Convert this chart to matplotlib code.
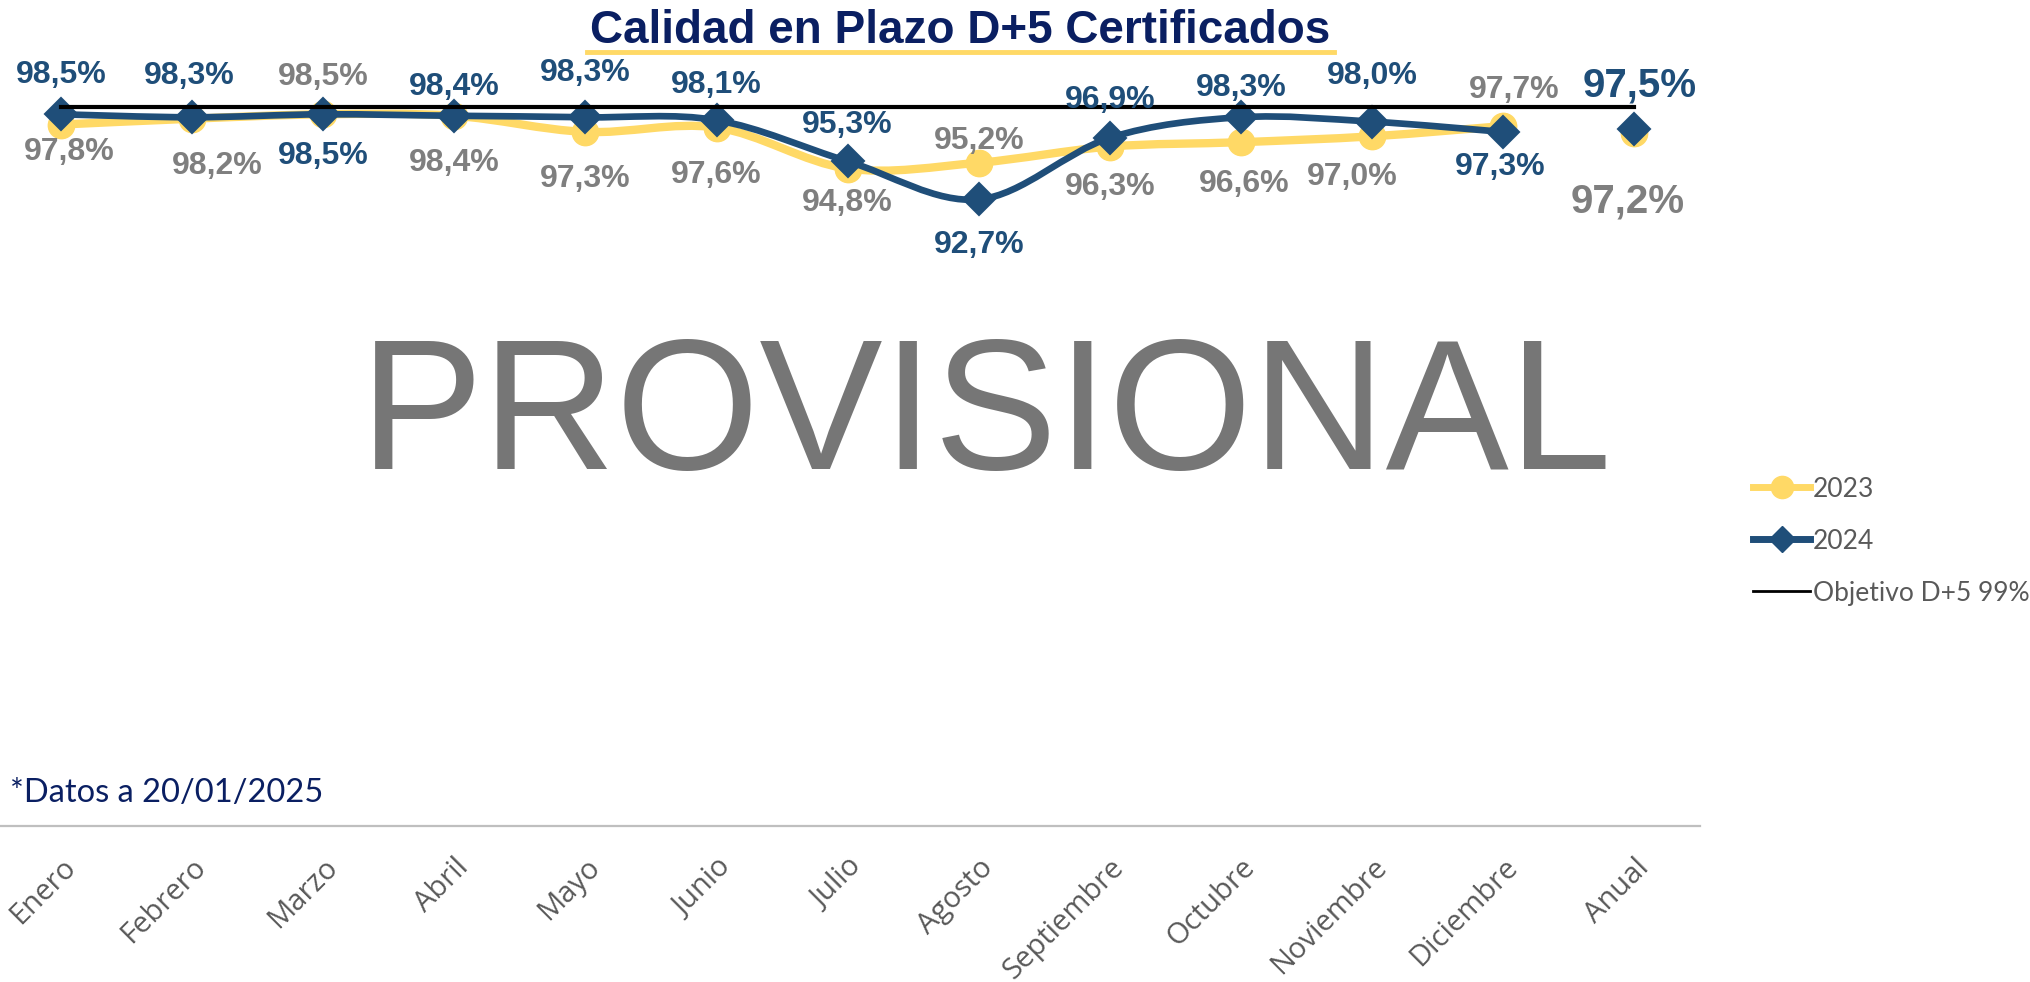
import numpy as np
import matplotlib
matplotlib.use("Agg")
import matplotlib.pyplot as plt
from matplotlib import font_manager
from matplotlib.path import Path
from matplotlib.patches import PathPatch
from matplotlib.lines import Line2D
import matplotlib.transforms as mtransforms

# datos
meses = ["Enero", "Febrero", "Marzo", "Abril", "Mayo", "Junio", "Julio", "Agosto",
         "Septiembre", "Octubre", "Noviembre", "Diciembre", "Anual"]
v2023 = [97.8, 98.2, 98.5, 98.4, 97.3, 97.6, 94.8, 95.2, 96.3, 96.6, 97.0, 97.7, 97.2]
v2024 = [98.5, 98.3, 98.5, 98.4, 98.3, 98.1, 95.3, 92.7, 96.9, 98.3, 98.0, 97.3, 97.5]
objetivo = 99.0

# desplazamiento de etiquetas (puntos): (dx, dy)
off2023 = [(6, -20), (18, -34), (0, 27), (0, -34), (0, -34), (0, -34), (0, -25), (0, 16),
           (0, -29), (2, -30), (-14, -29), (8, 26), (-5, -49)]
off2024 = [(0, 28), (-2, 30), (0, -30), (0, 21), (0, 32), (0, 25), (0, 26), (0, -33),
           (0, 27), (0, 21), (0, 33), (-2, -25), (4, 31)]

names = {f.name for f in font_manager.fontManager.ttflist}
body = "Lato" if "Lato" in names else "DejaVu Sans"
ticks_font = "Open Sans" if "Open Sans" in names else body

AMARILLO = "#FFD966"
AZUL = "#1F4E79"
GRIS = "#7F7F7F"
NAVY = "#0A1F62"


def smooth_path(xs, ys):
    # curva suavizada tipo Excel (Catmull-Rom -> Bezier)
    pts = np.column_stack([xs, ys]).astype(float)
    n = len(pts)
    verts = [pts[0]]
    codes = [Path.MOVETO]
    for i in range(n - 1):
        p0 = pts[i - 1] if i > 0 else pts[i]
        p1 = pts[i]
        p2 = pts[i + 1]
        p3 = pts[i + 2] if i + 2 < n else pts[i + 1]
        c1 = p1 + (p2 - p0) / 6.0
        c2 = p2 - (p3 - p1) / 6.0
        verts += [c1, c2, p2]
        codes += [Path.CURVE4] * 3
    return Path(verts, codes)


fig = plt.figure(figsize=(20.31, 9.82), dpi=100)
ax = fig.add_axes([-0.0023, 0.159, 0.8393, 0.747])
ax.set_xlim(-0.5, 12.5)
ax.set_ylim(50, 100)

x = np.arange(len(meses))

# lineas (sin unir Anual)
p23 = PathPatch(smooth_path(x[:12], v2023[:12]), fill=False, lw=6, edgecolor=AMARILLO,
                capstyle="round", joinstyle="round", zorder=2)
ax.add_patch(p23)
ax.plot(x, v2023, linestyle="none", marker="o", markersize=19, color=AMARILLO, zorder=3)

p24 = PathPatch(smooth_path(x[:12], v2024[:12]), fill=False, lw=4.8, edgecolor=AZUL,
                capstyle="round", joinstyle="round", zorder=4)
ax.add_patch(p24)
ax.plot(x, v2024, linestyle="none", marker="D", markersize=16, color=AZUL,
        markeredgewidth=1.5, zorder=5)

ax.plot([x[0], x[-1]], [objetivo, objetivo], color="black", lw=3, zorder=6)

# etiquetas de datos
for i in range(len(meses)):
    big = i == len(meses) - 1
    fs = 29 if big else 23
    ax.annotate(f"{v2023[i]:.1f}%".replace(".", ","), (x[i], v2023[i]), xytext=off2023[i],
                textcoords="offset points", ha="center", va="center", fontsize=fs,
                fontweight="bold", color=GRIS, family="Liberation Sans",
                annotation_clip=False, zorder=7)
    ax.annotate(f"{v2024[i]:.1f}%".replace(".", ","), (x[i], v2024[i]), xytext=off2024[i],
                textcoords="offset points", ha="center", va="center", fontsize=fs,
                fontweight="bold", color=AZUL, family="Liberation Sans",
                annotation_clip=False, zorder=7)

# ejes
for s in ["top", "left", "right"]:
    ax.spines[s].set_visible(False)
ax.spines["bottom"].set_color("#BFBFBF")
ax.spines["bottom"].set_linewidth(1.6)
ax.set_yticks([])
ax.set_xticks(x)
ax.set_xticklabels(meses, rotation=45, ha="right", va="center", rotation_mode="anchor",
                   fontsize=21, color="#595959", family=ticks_font)
ax.tick_params(axis="x", length=0, pad=27)
shift = mtransforms.ScaledTranslation(0.1, 0, fig.dpi_scale_trans)
for lbl in ax.get_xticklabels():
    lbl.set_transform(lbl.get_transform() + shift)

# titulo
fig.text(0.4727, 0.968, "Calidad en Plazo D+5 Certificados", ha="center", va="center",
         fontsize=33, fontweight="bold", color=NAVY, family="Liberation Sans")
fig.add_artist(Line2D([0.289, 0.657], [0.947, 0.947], color=AMARILLO, lw=3.5,
                      transform=fig.transFigure))

# marca de agua
fig.text(0.4855, 0.5224, "PROVISIONAL", ha="center", va="baseline", fontsize=133,
         color="#767676", family="Liberation Sans")

# nota
fig.text(0.005, 0.192, "*Datos a 20/01/2025", ha="left", va="center", fontsize=23.5,
         color=NAVY, family=body)

# leyenda
handles = [
    Line2D([], [], color=AMARILLO, lw=5, marker="o", markersize=16),
    Line2D([], [], color=AZUL, lw=5, marker="D", markersize=13),
    Line2D([], [], color="black", lw=2),
]
fig.legend(handles, ["2023", "2024", "Objetivo D+5 99%"], loc="upper left",
           bbox_to_anchor=(0.8567, 0.528), frameon=False, borderpad=0,
           handlelength=2.15, handletextpad=0.12, labelspacing=1.02,
           labelcolor="#595959", prop={"family": body, "size": 19})

fig.savefig("out.png", dpi=100)
